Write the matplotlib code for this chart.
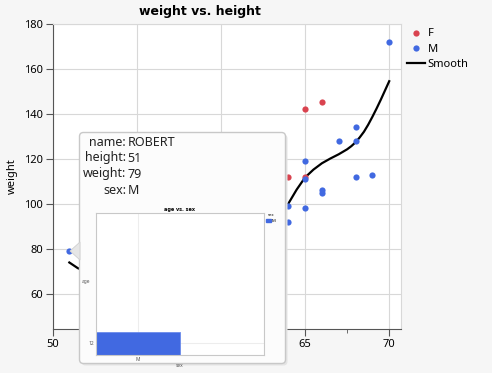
import matplotlib
matplotlib.use('Agg')
import matplotlib.pyplot as plt
from matplotlib.patches import FancyBboxPatch, Polygon
from matplotlib.lines import Line2D

plt.rcParams['font.family'] = ['Noto Sans', 'DejaVu Sans']

# points (the ones under the tooltip are not visible)
f_height = [64, 65, 65, 66]
f_weight = [112, 112, 142, 145]
m_height = [51, 64, 64, 65, 65, 65, 66, 66, 67, 68, 68, 68, 69, 70]
m_weight = [79, 99, 92, 119, 111, 98, 106, 105, 128, 134, 128, 112, 113, 172]

# smoother curve (middle part is hidden by the tooltip, rough guess there)
smooth_height = [51, 51.5, 52, 53, 54, 55, 56, 57, 58, 59, 60, 61, 62, 63, 64,
                 64.5, 65, 65.5, 66, 66.5, 67, 67.5, 67.75, 68, 68.25, 68.5,
                 68.75, 69, 69.25, 69.5, 69.75, 70]
smooth_weight = [74, 71.5, 70, 69, 70, 73, 77, 81, 84, 86, 87, 88, 90, 94, 100,
                 106.3, 111.7, 115.2, 118, 120.1, 122, 124.2, 125.6, 127.3, 129.5, 132,
                 135.1, 138.6, 142.3, 146.2, 150.3, 154.4]

# tooltip content
tip_keys = ['name:', 'height:', 'weight:', 'sex:']
tip_vals = ['ROBERT', '51', '79', 'M']
inset_sex = ['M']
inset_age = ['12']

RED = '#D9434F'
BLUE = '#4169E1'
W, H = 492, 373


def rect(x0, y0, x1, y1):      # pixel box -> figure fraction
    return [x0 / W, 1 - y1 / H, (x1 - x0) / W, (y1 - y0) / H]


fig = plt.figure(figsize=(W / 100, H / 100), dpi=100, facecolor='#F6F6F6')
ax = fig.add_axes(rect(52.5, 23.5, 401, 329))
ax.set_facecolor('white')

ax.plot(smooth_height, smooth_weight, color='black', lw=1.6, zorder=2,
        solid_joinstyle='round')
ax.scatter(f_height, f_weight, s=20, color=RED, zorder=3, linewidths=0)
ax.scatter(m_height, m_weight, s=20, color=BLUE, zorder=3, linewidths=0)

ax.set_xlim(50, 70.7)
ax.set_ylim(44.5, 180)
ax.set_xticks([50, 55, 60, 65, 70])
ax.set_xticks([52.5, 57.5, 62.5, 67.5], minor=True)
ax.set_yticks([60, 80, 100, 120, 140, 160, 180])
ax.grid(True, color='#D8D8D8', lw=0.8)
ax.set_axisbelow(True)
ax.tick_params(labelsize=8, length=5, color='#555555', pad=2)
ax.tick_params(which='minor', length=3, color='#555555')
for s in ['left', 'bottom']:
    ax.spines[s].set_color('#555555')
for s in ['top', 'right']:
    ax.spines[s].set_color('#D8D8D8')
ax.set_ylabel('weight', fontsize=8, labelpad=4)

fig.text(200 / W, 1 - 11 / H, 'weight vs. height', ha='center', va='center',
         fontsize=9, fontweight='bold', family=['DejaVu Sans'])

handles = [Line2D([], [], ls='', marker='o', ms=4.5, color=RED, mec='none'),
           Line2D([], [], ls='', marker='o', ms=4.5, color=BLUE, mec='none'),
           Line2D([], [], color='black', lw=1.6)]
fig.legend(handles, ['F', 'M', 'Smooth'], loc='upper left',
           bbox_to_anchor=(403 / W, 1 - 24 / H), frameon=False, fontsize=8,
           handlelength=1.6, handletextpad=0.2, labelspacing=0.4, borderaxespad=0)

# tooltip box, drawn in pixel units
bx0, by0, bx1, by1 = 79, 132, 287, 365
tip = fig.add_axes(rect(bx0, by0, bx1, by1))
tip.set_xlim(0, bx1 - bx0)
tip.set_ylim(by1 - by0, 0)
tip.axis('off')
tip.add_patch(FancyBboxPatch((2.5, 2.5), bx1 - bx0 - 2, by1 - by0 - 2,
                             boxstyle='round,pad=0,rounding_size=4',
                             fc='#E4E4E4', ec='none', clip_on=False))
tip.add_patch(FancyBboxPatch((0.5, 0.5), bx1 - bx0 - 2, by1 - by0 - 2,
                             boxstyle='round,pad=0,rounding_size=4',
                             fc='#FCFCFC', ec='#C8C8C8', lw=1, clip_on=False))
tip.add_patch(Polygon([[-9, 119], [1, 110], [1, 128]], closed=True,
                      fc='#E6E6E6', ec='#D0D0D0', lw=0.6, clip_on=False))
for i, (k, v) in enumerate(zip(tip_keys, tip_vals)):
    yy = 10 + 16 * i
    tip.text(47, yy, k, ha='right', va='center', fontsize=9, color='#222222')
    tip.text(48.5, yy, v, ha='left', va='center', fontsize=9, color='#222222')

# small graph inside the tooltip
ins = fig.add_axes(rect(96, 213, 264, 355))
ins.bar(inset_sex, [1], bottom=-0.5, width=1.0, color=BLUE, ec='#6C8CEB', lw=0.6)
ins.set_xlim(-0.5, 1.5)
ins.set_ylim(-0.5, 5.6)
ins.set_yticks([0])
ins.set_yticklabels(inset_age)
ins.grid(True, color='#EDEDED', lw=0.8)
ins.set_axisbelow(True)
ins.tick_params(labelsize=3.5, length=0, pad=1.5, colors='#555555')
for s in ins.spines.values():
    s.set_color('#C8C8C8')
ins.set_title('age vs. sex', fontsize=3.5, fontweight='bold', pad=1.5,
              family=['DejaVu Sans'])
ins.set_xlabel('sex', fontsize=3.5, labelpad=1, color='#555555')
ins.set_ylabel('age', fontsize=3.5, labelpad=1, color='#555555', rotation=0)
ins.yaxis.set_label_coords(-0.06, 0.5)
ins.legend([plt.Rectangle((0, 0), 1, 1, color=BLUE)], ['M'], title='sex',
           loc='upper left', bbox_to_anchor=(1.01, 1.0), frameon=False,
           fontsize=3, title_fontsize=3, handlelength=1.2, handleheight=0.6,
           handletextpad=0.3, borderaxespad=0, borderpad=0)

fig.savefig('out.png', dpi=100, facecolor=fig.get_facecolor())
